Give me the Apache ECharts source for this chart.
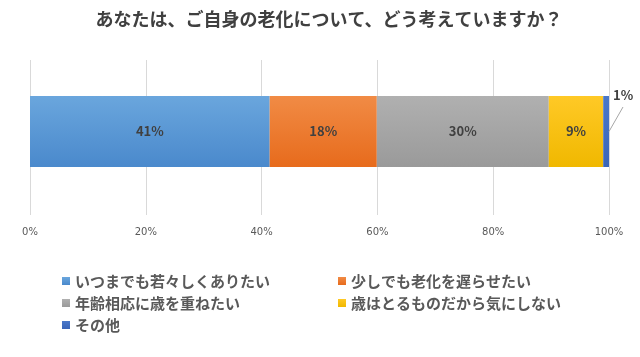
<!DOCTYPE html>
<html><head><meta charset="utf-8">
<script src="https://cdn.jsdelivr.net/npm/echarts@6/dist/echarts.min.js"></script>
<style>html,body{margin:0;padding:0;background:#fff}#c{width:640px;height:357px}</style>
</head><body><div id="c"></div>
<script>
const titleText = 'あなたは、ご自身の老化について、どう考えていますか？';
const categories = ['回答'];
const seriesNames = ['いつまでも若々しくありたい','少しでも老化を遅らせたい','年齢相応に歳を重ねたい','歳はとるものだから気にしない','その他'];
const seriesValues = [41.4, 18.5, 29.7, 9.4, 1.0];
const seriesLabels = ['41%','18%','30%','9%','1%'];
const tickValues = [0, 20, 40, 60, 80, 100];
const colorsTop = ['#6aa6dd','#f18b45','#b0b0b0','#ffc926','#4a78c9'];
const colorsBot = ['#4a89cc','#e76b1c','#9a9a9a','#f0b800','#3a65b8'];

const chart = echarts.init(document.getElementById('c'));
const total = seriesValues.reduce((a, b) => a + b, 0);
const series = seriesNames.map((n, i) => {
  const s = {
    name: n, type: 'bar', stack: 'a', barWidth: 71,
    xAxisIndex: 1, yAxisIndex: 1,
    data: [seriesValues[i]],
    itemStyle: { color: new echarts.graphic.LinearGradient(0,0,0,1,[{offset:0,color:colorsTop[i]},{offset:1,color:colorsBot[i]}]) },
    label: { show: true, position: 'inside', formatter: () => seriesLabels[i], color: '#404040', fontSize: 13, fontWeight: 'bold', fontFamily: 'Noto Sans CJK JP' }
  };
  if (i === 4) {
    s.label.position = 'right';
    s.labelLayout = { x: 613, y: 95, align: 'left', verticalAlign: 'middle' };
    s.markLine = {
      silent: true, symbol: 'none', animation: false,
      label: { show: false },
      lineStyle: { color: '#a6a6a6', width: 1, type: 'solid' },
      data: [[{ coord: [total, categories[0]] }, { x: 623, y: 107 }]]
    };
  }
  return s;
});
const legendText = { color: '#595959', fontSize: 15, lineHeight: 16, fontWeight: 'bold', fontFamily: 'Noto Sans CJK JP' };
chart.setOption({
  animation: false,
  title: { text: titleText, left: 324, top: 5, textAlign: 'center', textStyle: { color: '#404040', fontSize: 18, fontWeight: 'bold', fontFamily: 'Noto Sans CJK JP' } },
  grid: [
    { left: 30, right: 31, top: 60, bottom: 142 },
    { left: 30, right: 31, top: 48, bottom: 142 }
  ],
  xAxis: [
    { gridIndex: 0, type: 'value', min: 0, max: 100, interval: 20,
      axisLine: { show: false }, axisTick: { show: false },
      splitLine: { lineStyle: { color: '#d9d9d9' } },
      axisLabel: { formatter: v => tickValues.includes(v) ? v + '%' : '', color: '#595959', fontSize: 10, margin: 12, fontFamily: 'DejaVu Sans' } },
    { gridIndex: 1, type: 'value', min: 0, max: 100, show: false, splitLine: { show: false } }
  ],
  yAxis: [
    { gridIndex: 0, type: 'category', data: categories, show: false },
    { gridIndex: 1, type: 'category', data: categories, show: false }
  ],
  legend: [
    { data: [seriesNames[0], seriesNames[2], seriesNames[4]], orient: 'vertical', left: 57, top: 268, itemWidth: 8, itemHeight: 8, itemGap: 6, icon: 'rect', textStyle: legendText, selectedMode: false },
    { data: [seriesNames[1], seriesNames[3]], orient: 'vertical', left: 333, top: 268, itemWidth: 8, itemHeight: 8, itemGap: 6, icon: 'rect', textStyle: legendText, selectedMode: false }
  ],
  series
});
</script></body></html>
